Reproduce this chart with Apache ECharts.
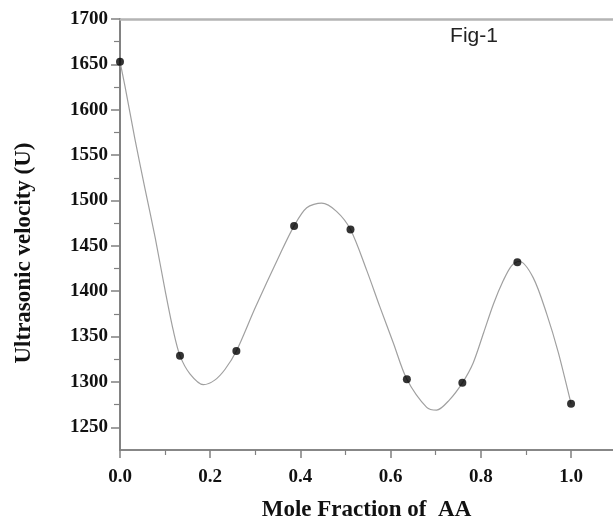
<!DOCTYPE html>
<html style="height: 100%">
<head>
    <meta charset="utf-8">
    <script src="https://cdn.jsdelivr.net/npm/echarts@6/dist/echarts.min.js"></script>
</head>
<body style="height: 100%; margin: 0; background: #fff">
    <div id="main" style="width: 613px; height: 527px"></div>
    <script type="text/javascript">
        // measured points (mole fraction, velocity)
        var moleFraction = [0.0, 0.133, 0.258, 0.386, 0.511, 0.636, 0.759, 0.881, 1.0];
        var velocity = [1653, 1329, 1334, 1472, 1468, 1303, 1299, 1432, 1276];

        // fitted curve
        var curveX = [0.0, 0.011, 0.033, 0.055, 0.078, 0.100, 0.118, 0.133, 0.155, 0.185, 0.210, 0.233, 0.258,
            0.300, 0.355, 0.386, 0.414, 0.447, 0.480, 0.511, 0.547, 0.576, 0.606, 0.636, 0.680, 0.702, 0.730,
            0.759, 0.783, 0.806, 0.828, 0.850, 0.868, 0.885, 0.916, 0.946, 0.972, 1.0];
        var curveY = [1653, 1626, 1568, 1514, 1459, 1401, 1357, 1329, 1309, 1297, 1302, 1314, 1334,
            1382, 1441, 1472, 1492, 1497, 1488, 1468, 1423, 1383, 1343, 1303, 1272, 1269, 1280,
            1299, 1321, 1354, 1386, 1412, 1428, 1433, 1415, 1375, 1332, 1276];

        var xMajor = [0, 0.2, 0.4, 0.6, 0.8, 1.0];
        var xMinor = [0.1, 0.3, 0.5, 0.7, 0.9];
        var yMajor = [1250, 1300, 1350, 1400, 1450, 1500, 1550, 1600, 1650, 1700];
        var yMinor = [1275, 1325, 1375, 1425, 1475, 1525, 1575, 1625, 1675];

        var axisGray = '#808080';
        var serifBold = {
            fontFamily: 'Liberation Serif',
            fontWeight: 'bold',
            color: '#111'
        };

        var myChart = echarts.init(document.getElementById('main'));

        var pts = moleFraction.map(function (x, i) { return [x, velocity[i]]; });
        var curve = curveX.map(function (x, i) { return [x, curveY[i]]; });

        function xAx(extra) {
            return Object.assign({
                type: 'value', min: 0, max: 1.093,
                splitLine: { show: false },
                axisLine: { lineStyle: { color: axisGray, width: 1.5 } }
            }, extra);
        }
        function yAx(extra) {
            return Object.assign({
                type: 'value', min: 1225, max: 1700,
                splitLine: { show: false },
                axisLine: { lineStyle: { color: axisGray, width: 1.5 } }
            }, extra);
        }

        var option = {
            animation: false,
            grid: { left: 120, top: 19, right: 0, bottom: 74 },
            xAxis: [
                xAx({
                    position: 'bottom',
                    axisTick: { customValues: xMajor, length: 8, lineStyle: { color: axisGray, width: 1.5 } },
                    axisLabel: Object.assign({
                        customValues: xMajor, fontSize: 19, margin: 18,
                        formatter: function (v) { return v.toFixed(1); }
                    }, serifBold),
                    name: 'Mole Fraction of  AA',
                    nameLocation: 'middle',
                    nameGap: 49,
                    nameTextStyle: Object.assign({ fontSize: 23 }, serifBold)
                }),
                xAx({
                    position: 'bottom',
                    axisTick: { customValues: xMinor, length: 5, lineStyle: { color: axisGray, width: 1.2 } },
                    axisLabel: { show: false }
                }),
                xAx({
                    position: 'top',
                    axisLine: { lineStyle: { color: '#b4b4b4', width: 2.5 } },
                    axisTick: { show: false },
                    axisLabel: { show: false }
                })
            ],
            yAxis: [
                yAx({
                    axisTick: { customValues: yMajor, length: 6, lineStyle: { color: axisGray, width: 1.5 } },
                    axisLabel: Object.assign({
                        customValues: yMajor, fontSize: 19, margin: 12,
                        formatter: function (v) { return String(v); }
                    }, serifBold)
                }),
                yAx({
                    axisTick: { customValues: yMajor, inside: true, length: 9, lineStyle: { color: axisGray, width: 1.5 } },
                    axisLabel: { show: false }
                }),
                yAx({
                    axisTick: { customValues: yMinor, inside: true, length: 6, lineStyle: { color: axisGray, width: 1.2 } },
                    axisLabel: { show: false }
                })
            ],
            graphic: [
                {
                    type: 'text',
                    x: 24, y: 253,
                    rotation: Math.PI / 2,
                    style: {
                        text: 'Ultrasonic velocity (U)',
                        fontFamily: 'Liberation Serif',
                        fontWeight: 'bold',
                        fontSize: 23,
                        fill: '#111',
                        textAlign: 'center',
                        textVerticalAlign: 'middle'
                    }
                },
                {
                    type: 'text',
                    x: 474, y: 36,
                    style: {
                        text: 'Fig-1',
                        fontFamily: 'Liberation Sans',
                        fontSize: 21,
                        fill: '#222',
                        textAlign: 'center',
                        textVerticalAlign: 'middle'
                    }
                }
            ],
            series: [
                {
                    type: 'line',
                    data: curve,
                    smooth: 0.3,
                    showSymbol: false,
                    lineStyle: { color: '#a0a0a0', width: 1.2 },
                    z: 2
                },
                {
                    type: 'scatter',
                    data: pts,
                    symbolSize: 8,
                    itemStyle: { color: '#000' },
                    z: 3
                }
            ]
        };

        myChart.setOption(option);
    </script>
</body>
</html>
